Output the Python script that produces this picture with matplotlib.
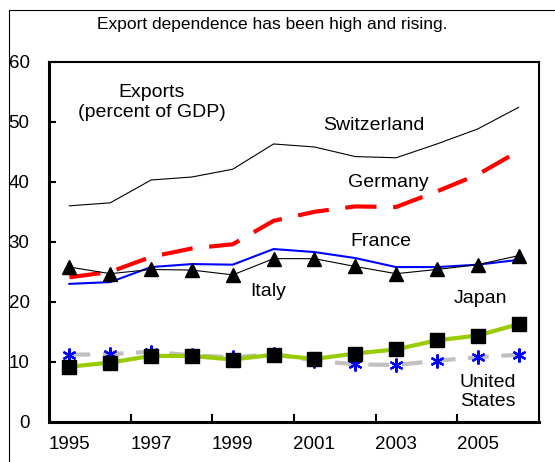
import numpy as np
import matplotlib as mpl
mpl.use('agg')
import matplotlib.pyplot as plt
from matplotlib.patches import Rectangle

plt.rcParams['font.family'] = ['Liberation Sans', 'DejaVu Sans']

years = list(range(1995, 2007))
switzerland = [36.0, 36.5, 40.3, 40.8, 42.1, 46.3, 45.8, 44.2, 44.0, 46.3, 48.8, 52.4]
germany = [24.1, 25.0, 27.5, 28.9, 29.6, 33.5, 35.0, 35.9, 35.8, 38.4, 41.2, 45.1]
france = [23.0, 23.3, 25.8, 26.3, 26.2, 28.8, 28.3, 27.3, 25.8, 25.8, 26.2, 27.0]
italy = [25.8, 24.7, 25.4, 25.3, 24.5, 27.2, 27.2, 25.9, 24.7, 25.4, 26.2, 27.7]
japan = [9.2, 9.9, 11.0, 11.0, 10.4, 11.2, 10.5, 11.4, 12.1, 13.6, 14.4, 16.3]
united_states = [11.2, 11.3, 11.7, 11.1, 10.8, 11.3, 10.2, 9.6, 9.5, 10.2, 10.8, 11.2]

label_years = [1995, 1997, 1999, 2001, 2003, 2005]

fig = plt.figure(figsize=(5.55, 4.62), dpi=100)
ax = fig.add_axes([49 / 555, 40 / 462, 490 / 555, 360.3 / 462])

# outer frame of the exhibit
fig.add_artist(Rectangle((9 / 555, -0.1), 1.5, 1.1 - 10 / 462, transform=fig.transFigure,
                         fill=False, lw=0.8, ec='black'))

ax.plot(years, switzerland, color='black', lw=0.8)
ax.plot(years, germany, color='#FF0000', lw=3, dashes=(7.5, 4))
ax.plot(years, france, color='#0000FF', lw=1.5)
ax.plot(years, italy, color='black', lw=0.8, marker='^', ms=10, mfc='black', mec='black')
ax.plot(years, united_states, color='#C0C0C0', lw=3, dashes=(5, 3),
        marker=(6, 2, 0), ms=10, mec='#0000FF', mew=1.6)
ax.plot(years, japan, color='#99CC00', lw=3, marker='s', ms=10, mfc='black', mec='black')

ax.set_xlim(1994.5, 2006.5)
ax.set_ylim(0, 60)
ax.set_yticks(range(0, 61, 10))

ax.set_xticks(label_years)
ax.set_xticklabels([str(y) for y in label_years])
ax.set_xticks([1996.5, 1998.5, 2000.5, 2002.5, 2004.5], minor=True)
ax.tick_params(axis='x', which='major', length=0, pad=10, labelsize=13.5)
ax.tick_params(axis='x', which='minor', direction='in', length=6, width=1.5)
ax.tick_params(axis='y', direction='in', length=5, width=1.5, pad=14, labelsize=13.5)

for side in ['left', 'bottom']:
    ax.spines[side].set_linewidth(2.2)
for side in ['top', 'right']:
    ax.spines[side].set_linewidth(1.5)

fig.text(272 / 555, 1 - 25 / 462, 'Export dependence has been high and rising.',
         ha='center', va='center', fontsize=12.5)

ax.text(1997.02, 53.2, 'Exports\n(percent of GDP)', ha='center', va='center',
        fontsize=14, linespacing=1.2)
ax.text(2002.46, 49.3, 'Switzerland', ha='center', va='center', fontsize=14)
ax.text(2002.8, 39.9, 'Germany', ha='center', va='center', fontsize=14)
ax.text(2002.63, 30.05, 'France', ha='center', va='center', fontsize=14)
ax.text(1999.86, 21.8, 'Italy', ha='center', va='center', fontsize=14)
ax.text(2005.06, 20.6, 'Japan', ha='center', va='center', fontsize=14)
ax.text(2005.24, 5.0, 'United\nStates', ha='center', va='center', fontsize=14,
        linespacing=1.15)

fig.savefig('out.png', dpi=100)
